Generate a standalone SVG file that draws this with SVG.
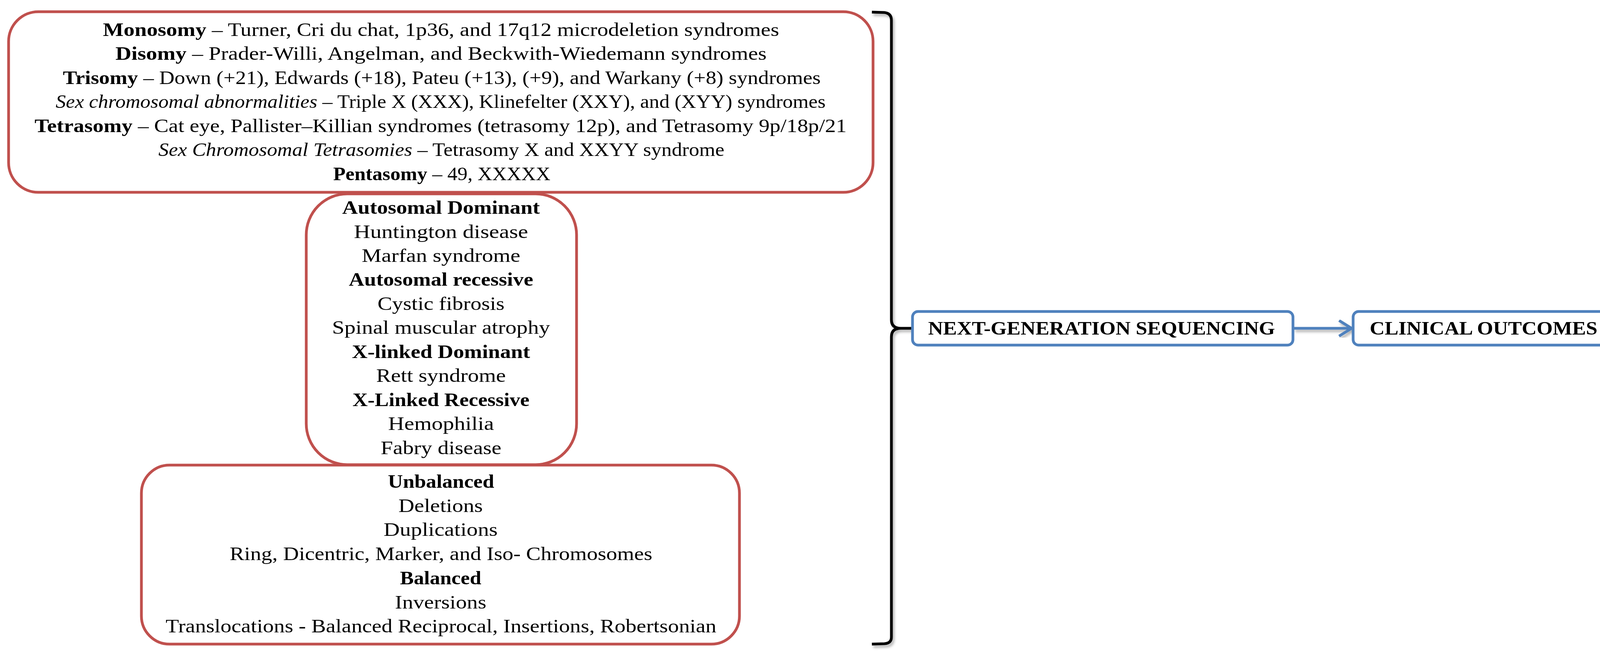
<svg xmlns="http://www.w3.org/2000/svg" width="4161" height="1681" viewBox="0 0 4161 1681">
<style>
  .red { fill: #ffffff; stroke: #C0504D; stroke-width: 7; }
  .blue { fill: #ffffff; stroke: #4F81BD; stroke-width: 7; }
  text { font-family: "Liberation Serif", "Times New Roman", serif; font-size: 48px; fill: #000000; }
  .c { text-anchor: middle; }
  .b { font-weight: bold; }
  .i { font-style: italic; }
  .brace { fill: none; stroke: #000000; stroke-width: 7; stroke-linecap: butt; stroke-linejoin: round; }
  .arrow { fill: none; stroke: #4F81BD; stroke-width: 7; stroke-linejoin: miter; }
</style>
<defs>
  <filter id="shadow" x="-20%" y="-5%" width="140%" height="115%">
    <feDropShadow dx="4" dy="6" stdDeviation="3" flood-color="#000000" flood-opacity="0.3"/>
  </filter>
</defs>
<rect width="4161" height="1681" fill="#ffffff"/>

<g id="connectors">
  <path class="brace" filter="url(#shadow)" d="M2232 31 L2264 32 Q2282 34 2282 52 L2282 818 Q2282 840 2306 840 L2333 840 M2306 840 Q2282 840 2282 862 L2282 1630 Q2282 1646 2264 1647 L2232 1648"/>
  <path class="arrow" filter="url(#shadow)" d="M3312 840 H3457 M3428 820 L3460 840 L3428 860"/>
</g>

<g id="node-numerical">
  <rect class="red" x="22" y="30" width="2213" height="462" rx="76" ry="76"/>
  <text class="c" x="1129" y="92" textLength="1731" lengthAdjust="spacingAndGlyphs"><tspan class="b">Monosomy</tspan> – Turner, Cri du chat, 1p36, and 17q12 microdeletion syndromes</text>
  <text class="c" x="1129" y="153" textLength="1667" lengthAdjust="spacingAndGlyphs"><tspan class="b">Disomy</tspan> – Prader-Willi, Angelman, and Beckwith-Wiedemann syndromes</text>
  <text class="c" x="1131" y="215" textLength="1940" lengthAdjust="spacingAndGlyphs"><tspan class="b">Trisomy</tspan> – Down (+21), Edwards (+18), Pateu (+13), (+9), and Warkany (+8) syndromes</text>
  <text class="c" x="1128" y="276" textLength="1971" lengthAdjust="spacingAndGlyphs"><tspan class="i">Sex chromosomal abnormalities</tspan> – Triple X (XXX), Klinefelter (XXY), and (XYY) syndromes</text>
  <text class="c" x="1128" y="338" textLength="2079" lengthAdjust="spacingAndGlyphs"><tspan class="b">Tetrasomy</tspan> – Cat eye, Pallister–Killian syndromes (tetrasomy 12p), and Tetrasomy 9p/18p/21</text>
  <text class="c" x="1130" y="399" textLength="1449" lengthAdjust="spacingAndGlyphs"><tspan class="i">Sex Chromosomal Tetrasomies</tspan> – Tetrasomy X and XXYY syndrome</text>
  <text class="c" x="1131" y="461" textLength="556" lengthAdjust="spacingAndGlyphs"><tspan class="b">Pentasomy</tspan> – 49, XXXXX</text>
</g>

<g id="node-monogenic">
  <rect class="red" x="784" y="496" width="692" height="693" rx="105" ry="105"/>
  <text class="c b" x="1129" y="547" textLength="506" lengthAdjust="spacingAndGlyphs">Autosomal Dominant</text>
  <text class="c" x="1129" y="609" textLength="446" lengthAdjust="spacingAndGlyphs">Huntington disease</text>
  <text class="c" x="1129" y="670" textLength="406" lengthAdjust="spacingAndGlyphs">Marfan syndrome</text>
  <text class="c b" x="1129" y="731" textLength="472" lengthAdjust="spacingAndGlyphs">Autosomal recessive</text>
  <text class="c" x="1129" y="793" textLength="325" lengthAdjust="spacingAndGlyphs">Cystic fibrosis</text>
  <text class="c" x="1129" y="854" textLength="558" lengthAdjust="spacingAndGlyphs">Spinal muscular atrophy</text>
  <text class="c b" x="1129" y="916" textLength="456" lengthAdjust="spacingAndGlyphs">X-linked  Dominant</text>
  <text class="c" x="1129" y="977" textLength="332" lengthAdjust="spacingAndGlyphs">Rett syndrome</text>
  <text class="c b" x="1129" y="1039" textLength="453" lengthAdjust="spacingAndGlyphs">X-Linked  Recessive</text>
  <text class="c" x="1129" y="1100" textLength="271" lengthAdjust="spacingAndGlyphs">Hemophilia</text>
  <text class="c" x="1129" y="1162" textLength="309" lengthAdjust="spacingAndGlyphs">Fabry disease</text>
</g>

<g id="node-structural">
  <rect class="red" x="362" y="1190" width="1531" height="458" rx="72" ry="72"/>
  <text class="c b" x="1129" y="1248" textLength="272" lengthAdjust="spacingAndGlyphs">Unbalanced</text>
  <text class="c" x="1128" y="1310" textLength="216" lengthAdjust="spacingAndGlyphs">Deletions</text>
  <text class="c" x="1128" y="1371" textLength="292" lengthAdjust="spacingAndGlyphs">Duplications</text>
  <text class="c" x="1129" y="1433" textLength="1082" lengthAdjust="spacingAndGlyphs">Ring, Dicentric, Marker, and Iso- Chromosomes</text>
  <text class="c b" x="1128" y="1495" textLength="208" lengthAdjust="spacingAndGlyphs">Balanced</text>
  <text class="c" x="1128" y="1557" textLength="234" lengthAdjust="spacingAndGlyphs">Inversions</text>
  <text class="c" x="1129" y="1618" textLength="1410" lengthAdjust="spacingAndGlyphs">Translocations - Balanced Reciprocal, Insertions, Robertsonian</text>
</g>

<g id="node-ngs">
  <rect class="blue" x="2336" y="797" width="974" height="86" rx="14" ry="14"/>
  <text class="c b" x="2820" y="856" textLength="888" lengthAdjust="spacingAndGlyphs">NEXT-GENERATION SEQUENCING</text>
</g>

<g id="node-outcomes">
  <rect class="blue" x="3464" y="797" width="669" height="86" rx="14" ry="14"/>
  <text class="c b" x="3798" y="856" textLength="583" lengthAdjust="spacingAndGlyphs">CLINICAL OUTCOMES</text>
</g>
</svg>
